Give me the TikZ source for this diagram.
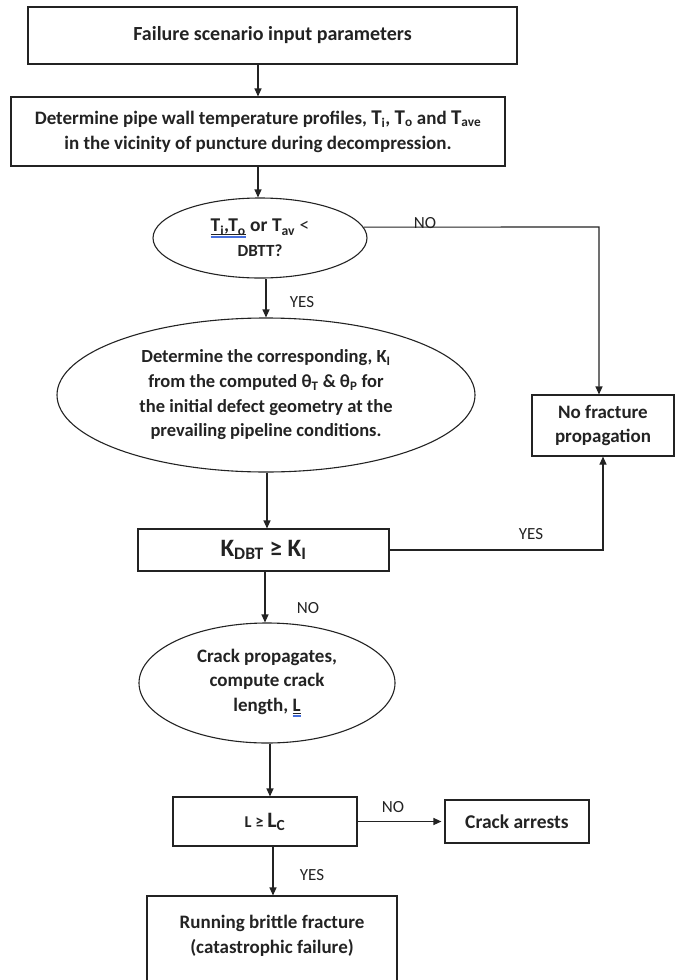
\documentclass[tikz,border=0pt]{standalone}
\usepackage{fontspec}
\setmainfont{Carlito}
\usetikzlibrary{arrows.meta,shapes.geometric}
\definecolor{spell}{RGB}{70,110,220}
\definecolor{ink}{RGB}{35,35,35}
\newsavebox\spellbox
\newcommand\spellul[1]{\sbox\spellbox{#1}\leavevmode\rlap{\rule[-2.4pt]{\wd\spellbox}{0.8pt}}\rlap{\textcolor{spell}{\rule[-4.2pt]{\wd\spellbox}{0.5pt}}}\rlap{\textcolor{spell}{\rule[-5.6pt]{\wd\spellbox}{0.5pt}}}\usebox\spellbox}
\newcommand\fs[2]{\fontsize{#1}{#2}\selectfont}
\tikzset{
  box/.style={draw=ink, line width=1.1pt, rectangle, inner sep=0pt, align=center, text=ink, font=\bfseries\fs{19}{24.7}},
  oval/.style={draw=ink, line width=1.1pt, ellipse, inner sep=0pt, align=center, text=ink, font=\bfseries\fs{18.5}{24.7}},
  arr/.style={draw=ink, line width=1.1pt, -{Triangle[length=8pt,width=7pt]}},
  lab/.style={font=\fs{17}{20}, inner sep=0pt, text=ink},
}
\begin{document}
\begin{tikzpicture}[x=1pt,y=-1pt]
\useasboundingbox (0,0) rectangle (675,980);
% nodes
\node[box, minimum width=489pt, minimum height=57pt, font=\bfseries\fs{20}{24}] (b1) at (272.5,35.5) {Failure scenario input parameters};
\node[box, minimum width=494pt, minimum height=69pt] (b2) at (258,131.5)
  {Determine pipe wall temperature profiles, {\fs{21}{24.7}T}\textsubscript{i}, {\fs{21}{24.7}T}\textsubscript{o} and {\fs{21}{24.7}T}\textsubscript{ave}\\
   in the vicinity of puncture during decompression.};
\node[oval, minimum width=214pt, minimum height=80pt] (e1) at (260,238)
  {\fs{19.5}{20.5}\spellul{T\textsubscript{i},T\textsubscript{o}} or T\textsubscript{av} {\mdseries <}\\ {\fs{17}{20.5}DBTT?}};
\node[oval, minimum width=418pt, minimum height=154pt] (e2) at (266,395)
  {Determine the corresponding, K\textsubscript{I}\\
   from the computed θ\textsubscript{T} \& θ\textsubscript{P} for\\
   the initial defect geometry at the\\
   prevailing pipeline conditions.};
\node[box, minimum width=142pt, minimum height=61pt, font=\bfseries\fs{19}{24}] (nf) at (603,425.5) {No fracture\\ propagation};
\node[box, minimum width=251pt, minimum height=42pt, font=\bfseries\fs{25}{28}] (kd) at (263.5,550) {K\textsubscript{DBT} ≥ K\textsubscript{I}};
\node[oval, minimum width=256pt, minimum height=120pt, font=\bfseries\fs{19}{24.5}] (cr) at (267,683)
  {Crack propagates,\\ compute crack\\ length, \spellul{L}};
\node[box, minimum width=184pt, minimum height=49pt] (lb) at (265,821.5) {{\fs{16.5}{18}L ≥ }{\fs{22}{24}L\textsubscript{C}}};
\node[box, minimum width=144pt, minimum height=43pt, font=\bfseries\fs{19.5}{24}] (ca) at (517,821.5) {Crack arrests};
\node[box, minimum width=250pt, minimum height=89pt] (bot) at (272,940.5)
  {\parbox[c][89pt][t]{250pt}{\centering\vspace*{19pt}Running brittle fracture\\(catastrophic failure)}};
% x positions of vertical connectors
\coordinate (xa) at (258,0);
\coordinate (xb) at (266,0);
\coordinate (xc) at (267,0);
\coordinate (xd) at (265,0);
\coordinate (xe) at (270,0);
\coordinate (xf) at (273,0);
\coordinate (c1) at (599,227);
\coordinate (c2) at (603,550);
% connectors
\draw[arr] (b1.south -| xa) -- (b2.north -| xa);
\draw[arr] (b2.south -| xa) -- (e1.north -| xa);
\draw[arr] (e1.south -| xb) -- (e2.north -| xb);
\draw[arr] (e2.south -| xc) -- (kd.north -| xc);
\draw[arr] (kd.south -| xd) -- (cr.north -| xd);
\draw[arr] (cr.south -| xe) -- (lb.north -| xe);
\draw[arr] (lb.south -| xf) -- (bot.north -| xf);
\draw[arr] (e1.6) -- (c1) -- (nf.north -| c1);
\draw[arr] (kd.east) -- (c2) -- (nf.south -| c2);
\draw[arr, shorten >=3pt] (lb.east) -- (ca.west);
% labels
\node[lab] (n1) at (425,223) {NO};
\node[lab] (y1) at (302,302) {YES};
\node[lab] (y2) at (531,534) {YES};
\node[lab] (n2) at (308,608) {NO};
\node[lab] (n3) at (393,807) {NO};
\node[lab] (y3) at (312,875) {YES};
\end{tikzpicture}
\end{document}
